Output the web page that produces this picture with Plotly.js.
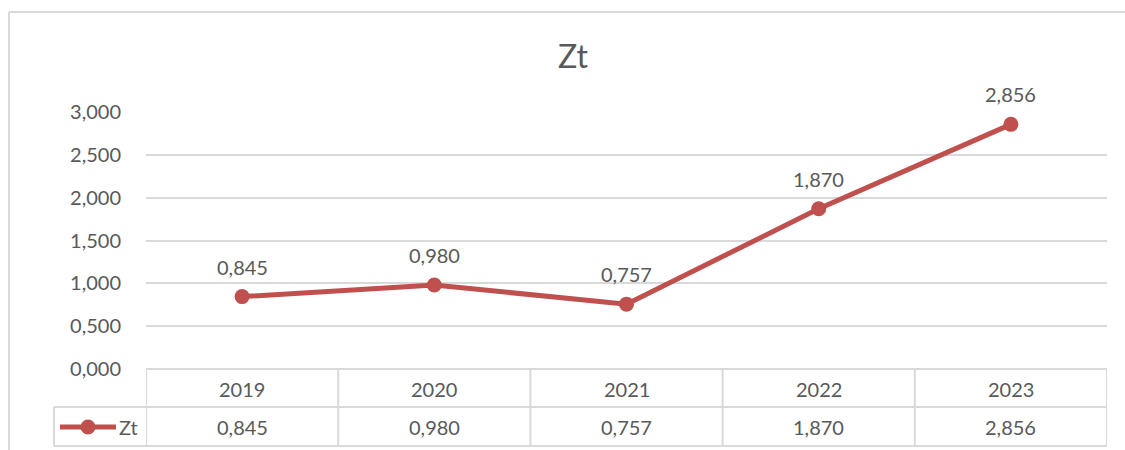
<!DOCTYPE html>
<html>
<head>
<meta charset="utf-8">
<script src="https://cdn.plot.ly/plotly-3.0.1.min.js"></script>
<style>
  html, body { margin: 0; padding: 0; background: #fff; }
  #chart { width: 1125px; height: 450px; }
</style>
</head>
<body>
<div id="chart"></div>
<script>
// ---- data ----
const categories = ['2019', '2020', '2021', '2022', '2023'];
const ztValues = [0.845, 0.980, 0.757, 1.870, 2.856];
const seriesName = 'Zt';
const yTickVals = [0, 0.5, 1.0, 1.5, 2.0, 2.5, 3.0];

// ---- styles ----
const RED = '#C0504D';
const TXT = '#595959';
const GRID = '#D9D9D9';
const FONT = 'Lato, "Open Sans", sans-serif';

// pixel helpers (plot area: x 146..1107, y 112..369)
const L = 146, R = 1107, T = 112, B = 369;
const W = R - L, H = B - T;
const px = x => (x - L) / W;
const py = y => (B - y) / H;

const fmt = v => v.toFixed(3).replace('.', ',');
const xs = categories.map((c, i) => i);

const trace = {
  x: xs,
  y: ztValues,
  type: 'scatter',
  mode: 'lines+markers',
  name: seriesName,
  line: { color: RED, width: 5 },
  marker: { color: RED, size: 15 },
  cliponaxis: false,
  hoverinfo: 'none'
};

const shapes = [];
const annotations = [];

// outer chart border (left + top)
shapes.push({ type: 'line', xref: 'paper', yref: 'paper', x0: px(9), x1: px(9), y0: py(12), y1: py(452), line: { color: GRID, width: 2 } });
shapes.push({ type: 'line', xref: 'paper', yref: 'paper', x0: px(9), x1: px(1127), y0: py(12), y1: py(12), line: { color: GRID, width: 2 } });

// data table horizontal lines
const rowTop = B, rowMid = 407, rowBot = 446;
shapes.push({ type: 'line', xref: 'paper', yref: 'paper', x0: 0, x1: 1, y0: py(rowTop), y1: py(rowTop), line: { color: GRID, width: 2 } });
shapes.push({ type: 'line', xref: 'paper', yref: 'paper', x0: px(54), x1: 1, y0: py(rowMid), y1: py(rowMid), line: { color: GRID, width: 2 } });
shapes.push({ type: 'line', xref: 'paper', yref: 'paper', x0: px(54), x1: 1, y0: py(rowBot), y1: py(rowBot), line: { color: GRID, width: 2 } });
// vertical lines
shapes.push({ type: 'line', xref: 'paper', yref: 'paper', x0: px(54), x1: px(54), y0: py(rowMid), y1: py(rowBot), line: { color: GRID, width: 2 } });
for (let i = 0; i <= categories.length; i++) {
  shapes.push({ type: 'line', xref: 'x', yref: 'paper', x0: i - 0.5, x1: i - 0.5, y0: py(rowTop), y1: py(rowBot), line: { color: GRID, width: 2 } });
}

// legend key in table
shapes.push({ type: 'line', xref: 'paper', yref: 'paper', x0: px(60), x1: px(116), y0: py(427), y1: py(427), line: { color: RED, width: 5 } });
shapes.push({ type: 'circle', xref: 'paper', yref: 'paper', xsizemode: 'pixel', ysizemode: 'pixel', xanchor: px(88), yanchor: py(427), x0: -7.5, x1: 7.5, y0: -7.5, y1: 7.5, fillcolor: RED, line: { width: 0 } });
annotations.push({ xref: 'paper', yref: 'paper', x: px(117), y: py(427), text: seriesName, showarrow: false, xanchor: 'left', yanchor: 'middle', font: { family: FONT, size: 20, color: TXT } });

// table cells
categories.forEach((c, i) => {
  annotations.push({ xref: 'x', yref: 'paper', x: i, y: py(389), text: c, showarrow: false, xanchor: 'center', yanchor: 'middle', font: { family: FONT, size: 20, color: TXT } });
  annotations.push({ xref: 'x', yref: 'paper', x: i, y: py(427), text: fmt(ztValues[i]), showarrow: false, xanchor: 'center', yanchor: 'middle', font: { family: FONT, size: 20, color: TXT } });
  // data labels
  annotations.push({ xref: 'x', yref: 'y', x: i, y: ztValues[i], yshift: 30, text: fmt(ztValues[i]), showarrow: false, xanchor: 'center', yanchor: 'middle', font: { family: FONT, size: 20, color: TXT } });
});

const layout = {
  width: 1125,
  height: 450,
  margin: { l: L, r: 1125 - R, t: T, b: 450 - B, pad: 0 },
  paper_bgcolor: '#fff',
  plot_bgcolor: '#fff',
  separators: ',.',
  showlegend: false,
  font: { family: FONT, color: TXT, size: 20 },
  title: {
    text: seriesName,
    font: { family: FONT, size: 32, color: TXT },
    x: 573 / 1125, xref: 'container', xanchor: 'center',
    y: 1 - 57 / 450, yref: 'container', yanchor: 'middle'
  },
  xaxis: {
    range: [-0.5, categories.length - 0.5],
    showgrid: false, zeroline: false, showline: false,
    showticklabels: false, ticks: '', fixedrange: true
  },
  yaxis: {
    range: [0, 3],
    tickvals: yTickVals,
    tickformat: '.3f',
    showgrid: true, gridcolor: GRID, gridwidth: 2,
    zeroline: false, showline: false,
    ticks: 'outside', ticklen: 20, tickcolor: 'rgba(0,0,0,0)',
    tickfont: { family: FONT, size: 20, color: TXT },
    fixedrange: true
  },
  shapes: shapes,
  annotations: annotations
};

Plotly.newPlot('chart', [trace], layout, { displayModeBar: false, staticPlot: true });
</script>
</body>
</html>
